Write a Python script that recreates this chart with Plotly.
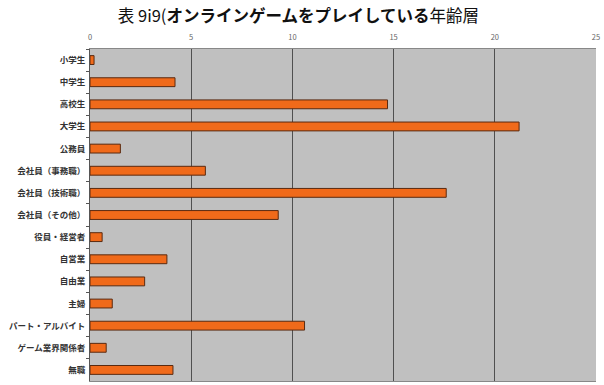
import plotly.graph_objects as go

categories = ["小学生", "中学生", "高校生", "大学生", "公務員", "会社員（事務職）", "会社員（技術職）",
              "会社員（その他）", "役員・経営者", "自営業", "自由業", "主婦", "パート・アルバイト",
              "ゲーム業界関係者", "無職"]
values = [0.2, 4.2, 14.7, 21.2, 1.5, 5.7, 17.6, 9.3, 0.6, 3.8, 2.7, 1.1, 10.6, 0.8, 4.1]
x_ticks = [0, 5, 10, 15, 20, 25]

fig = go.Figure(go.Bar(
    x=values, y=categories, orientation="h", width=0.4,
    marker=dict(color="#F06A1A", line=dict(color="#5A2A10", width=1)),
))

fig.update_layout(
    width=604, height=385,
    margin=dict(l=90, r=8, t=49, b=4),
    paper_bgcolor="white", plot_bgcolor="#C0C0C0",
    font=dict(family="Noto Sans CJK JP", color="#222"),
    showlegend=False,
    title=dict(
        text="表 9i9(<b>オンラインゲームをプレイしている</b>年齢層",
        x=0.494, xanchor="center", y=0.957, yanchor="middle",
        font=dict(size=16.5, color="#111"),
    ),
)
fig.update_xaxes(
    side="top", range=[0, 25], tickvals=x_ticks,
    tickfont=dict(size=7.5, color="#666"),
    showgrid=True, gridcolor="#505050", gridwidth=1.2,
    showline=True, linecolor="#888", linewidth=1, mirror=True,
    zeroline=False, ticks="", ticklabelstandoff=5,
)
fig.update_yaxes(
    autorange="reversed", tickfont=dict(size=8.5, color="#333", weight="bold"),
    showline=True, linecolor="#555", linewidth=1,
    ticks="outside", ticklen=3, tickcolor="#555", tickson="boundaries",
    showgrid=False, ticksuffix=" ",
)

fig.write_html("out.html")
